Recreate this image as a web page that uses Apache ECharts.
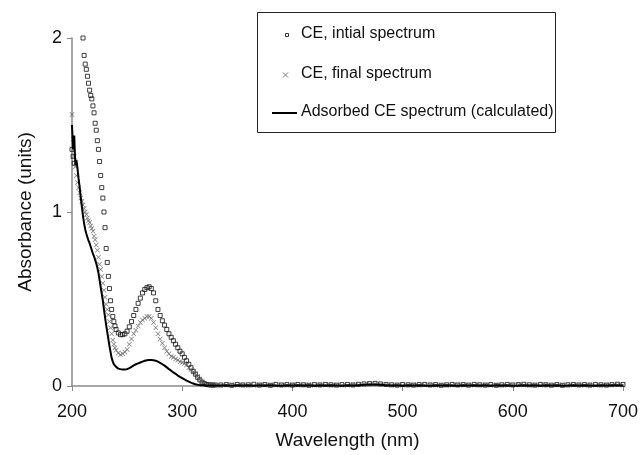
<!DOCTYPE html>
<html>
<head>
<meta charset="utf-8">
<title>CE spectra</title>
<script src="https://cdn.jsdelivr.net/npm/echarts@6/dist/echarts.min.js"></script>
<style>
  html, body { margin: 0; padding: 0; background: #fff; }
  #chart { width: 641px; height: 455px; }
</style>
</head>
<body>
<div id="chart"></div>
<script>
// wavelength grid (nm): 1 nm steps on the steep part, 2 nm on the band, 5 nm on the baseline
const wlSteep = [200, 201, 202, 203, 204, 205, 206, 207, 208, 209,
  210, 211, 212, 213, 214, 215, 216, 217, 218, 219,
  220, 221, 222, 223, 224, 225, 226, 227, 228, 229,
  230, 231, 232, 233, 234, 235, 236, 237, 238, 239,
  240]
const wlBand = [242, 244, 246, 248, 250, 252, 254, 256, 258, 260,
  262, 264, 266, 268, 270, 272, 274, 276, 278, 280,
  282, 284, 286, 288, 290, 292, 294, 296, 298, 300,
  302, 304, 306, 308, 310, 312, 314, 316, 318, 320,
  322, 324, 326, 328, 330]
const wlBase = [335, 340, 345, 350, 355, 360, 365, 370, 375, 380,
  385, 390, 395, 400, 405, 410, 415, 420, 425, 430,
  435, 440, 445, 450, 455, 460, 465, 470, 475, 480,
  485, 490, 495, 500, 505, 510, 515, 520, 525, 530,
  535, 540, 545, 550, 555, 560, 565, 570, 575, 580,
  585, 590, 595, 600, 605, 610, 615, 620, 625, 630,
  635, 640, 645, 650, 655, 660, 665, 670, 675, 680,
  685, 690, 695, 700]

// CE, initial spectrum (null = off scale)
const initialSteep = [1.36, 1.32, 1.28, null, null, null, null, null, null, null,
  2.00, 1.90, 1.85, 1.82, 1.78, 1.74, 1.70, 1.67, 1.65, 1.61,
  1.57, 1.51, 1.47, 1.41, 1.36, 1.29, 1.21, 1.14, 1.08, 1.00,
  0.91, 0.79, 0.71, 0.63, 0.56, 0.49, 0.44, 0.40, 0.37, 0.345,
  0.325]
const initialBand = [0.305, 0.295, 0.295, 0.30, 0.315, 0.34, 0.37, 0.405, 0.44, 0.475,
  0.505, 0.535, 0.555, 0.565, 0.57, 0.56, 0.535, 0.49, 0.44, 0.405,
  0.375, 0.35, 0.325, 0.30, 0.28, 0.26, 0.24, 0.22, 0.20, 0.185,
  0.165, 0.145, 0.125, 0.105, 0.085, 0.068, 0.05, 0.035, 0.022, 0.014,
  0.009, 0.007, 0.006, 0.005, 0.006]
const initialBase = [0.006, 0.008, 0.004, 0.009, 0.006, 0.007, 0.010, 0.005, 0.008, 0.004,
  0.009, 0.006, 0.008, 0.005, 0.009, 0.007, 0.004, 0.008, 0.006, 0.009,
  0.007, 0.005, 0.008, 0.009, 0.006, 0.010, 0.012, 0.014, 0.015, 0.012,
  0.009, 0.007, 0.005, 0.009, 0.007, 0.005, 0.008, 0.009, 0.006, 0.008,
  0.004, 0.007, 0.009, 0.006, 0.008, 0.005, 0.009, 0.007, 0.005, 0.008,
  0.004, 0.007, 0.009, 0.006, 0.008, 0.010, 0.007, 0.005, 0.009, 0.007,
  0.005, 0.008, 0.004, 0.007, 0.009, 0.006, 0.008, 0.005, 0.009, 0.007,
  0.005, 0.008, 0.010, 0.009]

// CE, final spectrum
const finalSteep = [1.56, 1.42, 1.32, 1.26, 1.21, 1.17, 1.14, 1.11, 1.08, 1.06,
  1.04, 1.02, 1.00, 0.985, 0.965, 0.95, 0.94, 0.92, 0.905, 0.89,
  0.86, 0.84, 0.81, 0.78, 0.74, 0.70, 0.67, 0.63, 0.59, 0.55,
  0.51, 0.47, 0.44, 0.41, 0.37, 0.335, 0.30, 0.265, 0.24, 0.22,
  0.205]
const finalBand = [0.19, 0.18, 0.185, 0.195, 0.21, 0.24, 0.27, 0.30, 0.32, 0.345,
  0.365, 0.38, 0.39, 0.40, 0.40, 0.39, 0.365, 0.335, 0.30, 0.27,
  0.245, 0.22, 0.20, 0.185, 0.17, 0.165, 0.155, 0.15, 0.14, 0.135,
  0.13, 0.12, 0.105, 0.095, 0.08, 0.07, 0.055, 0.04, 0.025, 0.015,
  0.009, 0.007, 0.006, 0.006, 0.005]
const finalBase = [0.004, 0.006, 0.009, 0.004, 0.007, 0.005, 0.003, 0.008, 0.006, 0.007,
  0.004, 0.007, 0.005, 0.009, 0.004, 0.006, 0.008, 0.004, 0.009, 0.006,
  0.004, 0.007, 0.005, 0.004, 0.008, 0.007, 0.010, 0.012, 0.013, 0.010,
  0.008, 0.005, 0.007, 0.004, 0.006, 0.009, 0.004, 0.006, 0.007, 0.004,
  0.007, 0.005, 0.004, 0.008, 0.006, 0.007, 0.004, 0.006, 0.009, 0.004,
  0.007, 0.005, 0.004, 0.007, 0.008, 0.006, 0.004, 0.007, 0.005, 0.008,
  0.004, 0.006, 0.007, 0.004, 0.006, 0.009, 0.004, 0.007, 0.005, 0.004,
  0.008, 0.006, 0.007, 0.005]

// Adsorbed CE spectrum (calculated)
const adsorbedSteep = [1.50, 1.36, 1.44, 1.27, 1.30, 1.25, 1.19, 1.14, 1.08, 1.03,
  0.975, 0.935, 0.90, 0.875, 0.855, 0.835, 0.82, 0.80, 0.78, 0.76,
  0.745, 0.725, 0.705, 0.68, 0.65, 0.61, 0.57, 0.53, 0.49, 0.44,
  0.395, 0.35, 0.31, 0.27, 0.23, 0.195, 0.16, 0.14, 0.125, 0.115,
  0.11]
const adsorbedBand = [0.10, 0.097, 0.095, 0.095, 0.097, 0.103, 0.11, 0.118, 0.125, 0.13,
  0.135, 0.14, 0.145, 0.148, 0.15, 0.15, 0.148, 0.145, 0.14, 0.133,
  0.125, 0.117, 0.107, 0.097, 0.088, 0.078, 0.07, 0.06, 0.052, 0.045,
  0.038, 0.031, 0.025, 0.019, 0.014, 0.01, 0.007, 0.005, 0.004, 0.004,
  0.003, 0.003, 0.003, 0.003, 0.003]
const adsorbedBase = [0.003, 0.004, 0.002, 0.005, 0.003, 0.004, 0.002, 0.004, 0.003, 0.005,
  0.003, 0.002, 0.004, 0.003, 0.005, 0.003, 0.004, 0.002, 0.004, 0.003,
  0.004, 0.003, 0.002, 0.004, 0.003, 0.005, 0.007, 0.009, 0.009, 0.007,
  0.005, 0.003, 0.004, 0.002, 0.004, 0.003, 0.005, 0.003, 0.002, 0.004,
  0.003, 0.004, 0.003, 0.002, 0.004, 0.003, 0.005, 0.003, 0.004, 0.002,
  0.004, 0.003, 0.004, 0.002, 0.003, 0.005, 0.003, 0.004, 0.002, 0.004,
  0.003, 0.004, 0.002, 0.003, 0.005, 0.003, 0.004, 0.003, 0.002, 0.004,
  0.003, 0.004, 0.005, 0.003]

const xTicks = [200, 300, 400, 500, 600, 700]
const yTicks = [0, 1, 2]

const wavelengths = wlSteep.concat(wlBand, wlBase)
const initialAbs = initialSteep.concat(initialBand, initialBase)
const finalAbs = finalSteep.concat(finalBand, finalBase)
const adsorbedAbs = adsorbedSteep.concat(adsorbedBand, adsorbedBase)

const pairs = values => wavelengths
  .map((w, i) => [w, values[i]])
  .filter(p => p[1] !== null)

const font = 'Arial, "Liberation Sans", sans-serif'
const axisGray = '#8a8a8a'
const crossPath = 'path://M0,1L1,0L5,4L9,0L10,1L6,5L10,9L9,10L5,6L1,10L0,9L4,5Z'

const chart = echarts.init(document.getElementById('chart'))
chart.setOption({
  animation: false,
  backgroundColor: '#fff',
  textStyle: { fontFamily: font },
  grid: { left: 72, right: 11, top: 38, bottom: 65 },
  xAxis: {
    type: 'value',
    min: xTicks[0],
    max: xTicks[xTicks.length - 1],
    interval: 100,
    name: 'Wavelength (nm)',
    nameLocation: 'middle',
    nameGap: 45,
    nameTextStyle: { fontSize: 19, color: '#111', fontFamily: font },
    axisLine: { lineStyle: { color: axisGray, width: 1.5 } },
    axisTick: { show: true, length: 5, lineStyle: { color: axisGray } },
    axisLabel: { fontSize: 18, color: '#111', margin: 17, fontFamily: font },
    splitLine: { show: false }
  },
  yAxis: {
    type: 'value',
    min: yTicks[0],
    max: yTicks[yTicks.length - 1],
    interval: 1,
    name: 'Absorbance (units)',
    nameLocation: 'middle',
    nameGap: 37,
    nameTextStyle: { fontSize: 19, color: '#111', fontFamily: font },
    axisLine: { show: true, lineStyle: { color: axisGray, width: 1.5 } },
    axisTick: { show: true, length: 5, lineStyle: { color: axisGray } },
    axisLabel: { fontSize: 18, color: '#111', margin: 10, fontFamily: font },
    splitLine: { show: false }
  },
  series: [
    {
      name: 'CE, intial spectrum',
      type: 'scatter',
      data: pairs(initialAbs),
      symbol: 'rect',
      symbolSize: 4,
      itemStyle: { color: 'rgba(255,255,255,0)', borderColor: '#111', borderWidth: 1 },
      z: 2
    },
    {
      name: 'CE, final spectrum',
      type: 'scatter',
      data: pairs(finalAbs),
      symbol: crossPath,
      symbolSize: 5,
      itemStyle: { color: '#5a5a5a' },
      z: 3
    },
    {
      name: 'Adsorbed CE spectrum (calculated)',
      type: 'line',
      data: pairs(adsorbedAbs),
      showSymbol: false,
      lineStyle: { color: '#000', width: 2 },
      z: 4
    }
  ],
  graphic: [
    {
      type: 'rect',
      shape: { x: 257.5, y: 12.5, width: 298, height: 120 },
      style: { fill: '#fff', stroke: '#222', lineWidth: 1 },
      z: 10
    },
    {
      type: 'rect',
      shape: { x: 285.5, y: 33.5, width: 3, height: 3 },
      style: { fill: '#fff', stroke: '#333', lineWidth: 1 },
      z: 11
    },
    {
      type: 'line',
      shape: { x1: 283, y1: 72.5, x2: 288, y2: 77.5 },
      style: { stroke: '#777', lineWidth: 1 },
      z: 11
    },
    {
      type: 'line',
      shape: { x1: 288, y1: 72.5, x2: 283, y2: 77.5 },
      style: { stroke: '#777', lineWidth: 1 },
      z: 11
    },
    {
      type: 'line',
      shape: { x1: 272, y1: 113, x2: 297, y2: 113 },
      style: { stroke: '#000', lineWidth: 2 },
      z: 11
    },
    {
      type: 'text', left: 301, top: 26,
      style: { text: 'CE, intial spectrum', font: '16px ' + font, fill: '#111' },
      z: 11
    },
    {
      type: 'text', left: 301, top: 66,
      style: { text: 'CE, final spectrum', font: '16px ' + font, fill: '#111' },
      z: 11
    },
    {
      type: 'text', left: 301, top: 104,
      style: { text: 'Adsorbed CE spectrum (calculated)', font: '16px ' + font, fill: '#111' },
      z: 11
    }
  ]
})
</script>
</body>
</html>
